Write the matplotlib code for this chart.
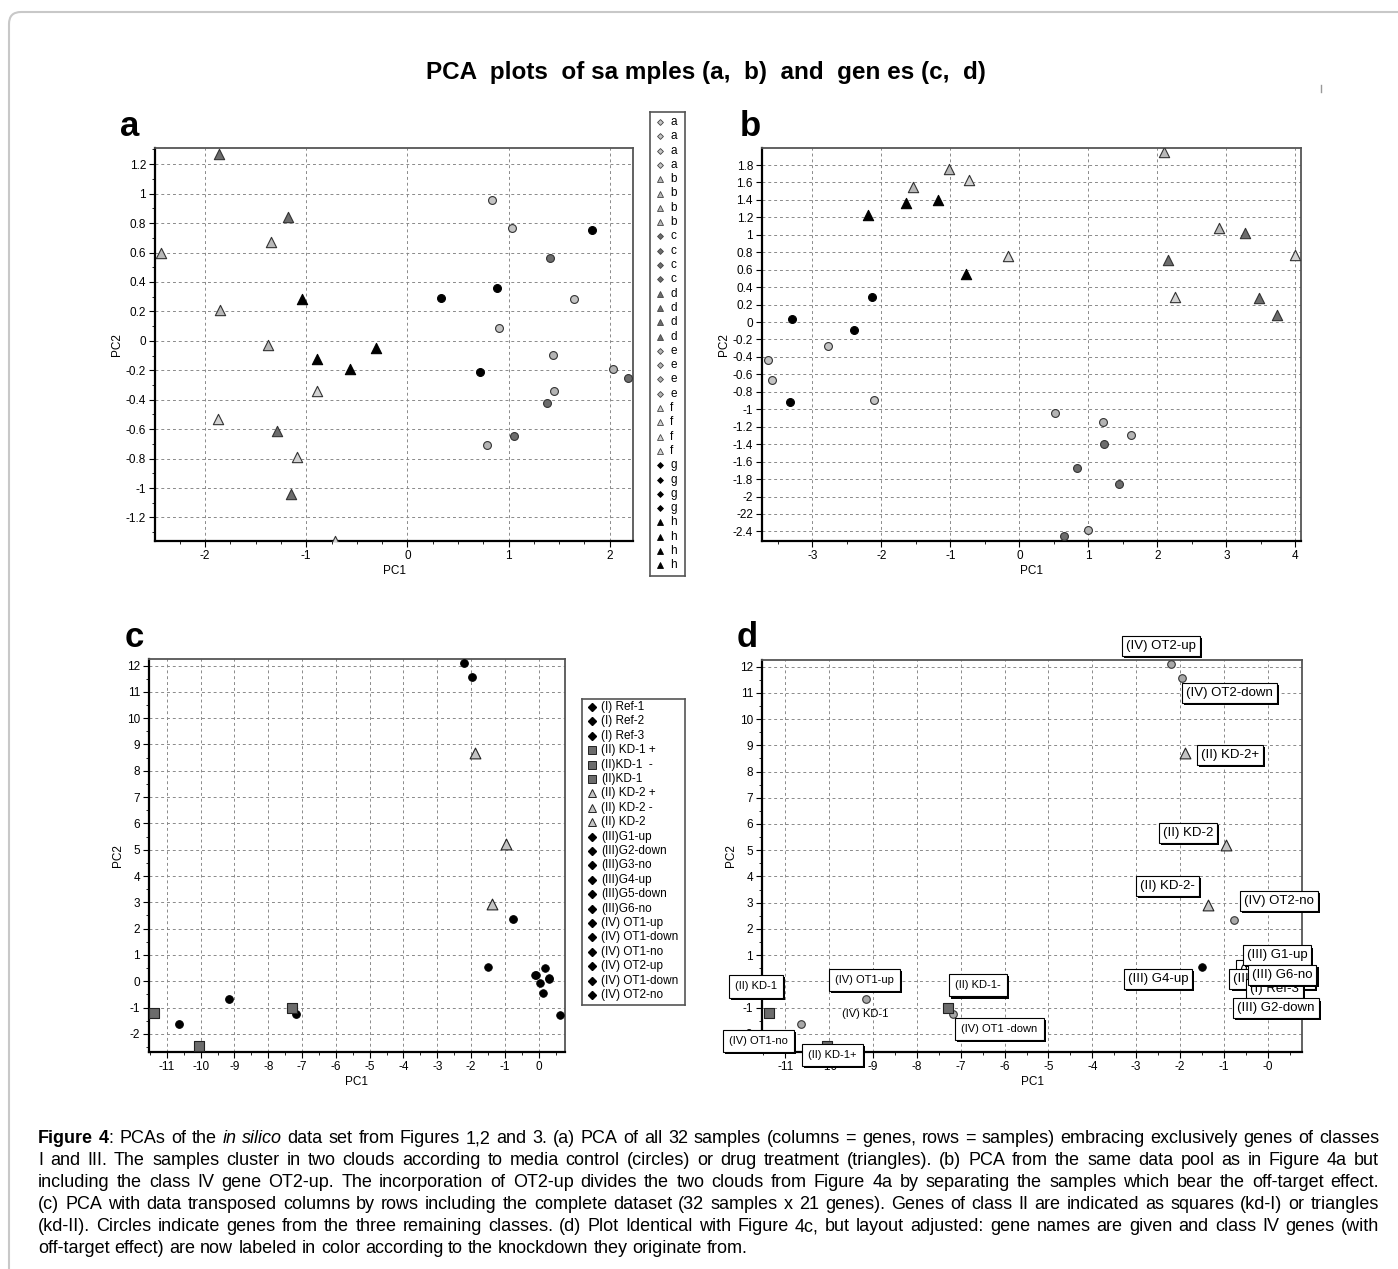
import numpy as np
import matplotlib.pyplot as plt
import matplotlib.patheffects as pe
from matplotlib.patches import FancyBboxPatch
from matplotlib.lines import Line2D
from matplotlib.ticker import MultipleLocator, FixedLocator

plt.rcParams['font.family'] = ['Liberation Sans', 'DejaVu Sans']

# ---------------- data ----------------
# panels a / b : 32 samples, 8 groups of 4
sample_group = ['a', 'a', 'a', 'a', 'b', 'b', 'b', 'b', 'c', 'c', 'c', 'c', 'd', 'd', 'd', 'd',
                'e', 'e', 'e', 'e', 'f', 'f', 'f', 'f', 'g', 'g', 'g', 'g', 'h', 'h', 'h', 'h']
a_pc1 = [0.84, 1.03, 1.65, 0.91, -2.44, -1.35, -1.85, -1.38, 1.41, 2.18, 1.38, 1.05, -1.86, -1.18, -1.29, -1.15,
         1.44, 2.03, 1.45, 0.79, -0.89, -1.87, -1.09, -0.72, 0.335, 0.89, 1.82, 0.72, -1.04, -0.89, -0.57, -0.31]
a_pc2 = [0.96, 0.765, 0.285, 0.084, 0.60, 0.67, 0.21, -0.03, 0.564, -0.25, -0.42, -0.65, 1.27, 0.84, -0.61, -1.04,
         -0.097, -0.19, -0.34, -0.71, -0.34, -0.53, -0.79, -1.36, 0.294, 0.362, 0.75, -0.21, 0.285, -0.125, -0.19, -0.05]
b_pc1 = [-2.77, -3.65, -3.58, -2.10, -1.54, -1.02, 2.89, 2.09, 1.23, 0.84, 1.44, 0.65, 3.27, 2.15, 3.47, 3.73,
         0.51, 1.21, 1.61, 0.99, -0.73, -0.16, 2.26, 4.0, -3.30, -2.13, -2.39, -3.32, -2.19, -1.65, -1.18, -0.78]
b_pc2 = [-0.27, -0.43, -0.67, -0.89, 1.55, 1.75, 1.08, 1.945, -1.40, -1.67, -1.86, -2.45, 1.02, 0.71, 0.27, 0.077,
         -1.04, -1.15, -1.29, -2.38, 1.63, 0.76, 0.29, 0.77, 0.03, 0.29, -0.09, -0.92, 1.23, 1.36, 1.40, 0.55]

# panels c / d : 21 genes
gene_names = ["(I) Ref-1", "(I) Ref-2", "(I) Ref-3", "(II) KD-1 +", "(II)KD-1  -", "(II)KD-1",
              "(II) KD-2 +", "(II) KD-2 -", "(II) KD-2", "(III)G1-up", "(III)G2-down", "(III)G3-no",
              "(III)G4-up", "(III)G5-down", "(III)G6-no", "(IV) OT1-up", "(IV) OT1-down", "(IV) OT1-no",
              "(IV) OT2-up", "(IV) OT1-down", "(IV) OT2-no"]
gene_class = ['I', 'I', 'I', 'II-1', 'II-1', 'II-1', 'II-2', 'II-2', 'II-2', 'III', 'III', 'III',
              'III', 'III', 'III', 'IV', 'IV', 'IV', 'IV', 'IV', 'IV']
gene_pc1 = [-0.10, 0.05, 0.14, -10.05, -7.29, -11.37, -1.89, -1.37, -0.96, 0.20, 0.62, 0.32,
            -1.51, 0.31, -0.09, -9.15, -7.17, -10.65, -2.21, -1.96, -0.77]
gene_pc2 = [0.23, -0.06, -0.44, -2.48, -1.03, -1.21, 8.69, 2.93, 5.21, 0.51, -1.27, 0.10,
            0.56, 0.12, 0.22, -0.68, -1.23, -1.61, 12.08, 11.57, 2.35]

# ---------------- figure ----------------
W, H = 1398, 1269
fig = plt.figure(figsize=(W / 100, H / 100), dpi=100)


def fx(x):
    return x / W


def fy(y):
    return 1 - y / H


# outer frame (only top/left visible in original)
frame = FancyBboxPatch((0.09, -1.0), 15.0, 12.69 - 0.12 + 1.0,
                       boxstyle='round,pad=0,rounding_size=0.12',
                       transform=fig.dpi_scale_trans, fc='none', ec='#c8c8c8', lw=1.5)
fig.add_artist(frame)
fig.add_artist(Line2D([fx(1321), fx(1321)], [fy(85), fy(92)], color='#999999', lw=1))

fig.text(fx(706), fy(72), "PCA  plots  of sa mples (a,  b)  and  gen es (c,  d)",
         ha='center', va='center', fontsize=17.5, fontweight='bold')

for letter, x, y in [('a', 120, 136), ('b', 740, 136), ('c', 125, 647), ('d', 737, 647)]:
    fig.text(fx(x), fy(y), letter, fontsize=25, fontweight='bold', va='baseline', ha='left')

grp_style = {'a': ('o', '#c4c4c4'), 'b': ('^', '#b8b8b8'), 'c': ('o', '#6c6c6c'), 'd': ('^', '#6c6c6c'),
             'e': ('o', '#b4b4b4'), 'f': ('^', '#d2d2d2'), 'g': ('o', 'black'), 'h': ('^', 'black')}


def style_axes(ax):
    for s in ['left', 'bottom']:
        ax.spines[s].set_color('black')
        ax.spines[s].set_linewidth(1.6)
    for s in ['top', 'right']:
        ax.spines[s].set_color('#555555')
        ax.spines[s].set_linewidth(1.3)
    ax.grid(True, which='major', ls=(0, (3, 3)), color='#8a8a8a', lw=0.7)
    ax.set_axisbelow(True)
    ax.tick_params(which='major', direction='out', length=4, width=0.8, labelsize=8.5, pad=2.5)
    ax.tick_params(which='minor', direction='out', length=2.5, width=0.6)
    ax.set_xlabel('PC1', fontsize=8.5, labelpad=2)
    ax.set_ylabel('PC2', fontsize=8.5, labelpad=2)


def fmt(v):
    return f"{round(v, 2) + 0.0:g}"


def draw_samples(ax, pc1, pc2):
    pc1 = np.array(pc1)
    pc2 = np.array(pc2)
    grp = np.array(sample_group)
    for g in ['a', 'b', 'c', 'd', 'e', 'f', 'g', 'h']:
        m, col = grp_style[g]
        sel = grp == g
        ec = 'black' if col == 'black' else '#333333'
        ax.scatter(pc1[sel], pc2[sel], marker=m, s=55 if m == '^' else 32, c=col,
                   edgecolors=ec, linewidths=0.8, zorder=3)


# ---- panel a
ax_a = fig.add_axes([fx(155), fy(541), (633 - 155) / W, (541 - 148) / H])
draw_samples(ax_a, a_pc1, a_pc2)
ax_a.set_xlim(-2.495, 2.23)
ax_a.set_ylim(-1.36, 1.31)
ax_a.xaxis.set_major_locator(FixedLocator([-2, -1, 0, 1, 2]))
ax_a.xaxis.set_minor_locator(MultipleLocator(0.25))
yt = np.round(np.arange(-1.2, 1.21, 0.2), 2)
ax_a.set_yticks(yt)
ax_a.set_yticklabels([fmt(v) for v in yt])
ax_a.yaxis.set_minor_locator(MultipleLocator(0.1))
ax_a.set_xticklabels(['-2', '-1', '0', '1', '2'])
style_axes(ax_a)

# legend a
leg_a = fig.add_axes([fx(650), fy(576), 35 / W, (576 - 112) / H])
leg_a.set_xlim(650, 685)
leg_a.set_ylim(576, 112)
leg_a.set_xticks([])
leg_a.set_yticks([])
for s in leg_a.spines.values():
    s.set_color('#555555')
    s.set_linewidth(1.2)
for i, g in enumerate(sample_group):
    m, col = grp_style[g]
    yy = 122 + i * 14.3
    leg_a.plot(660, yy, marker='D' if m == 'o' else '^', ms=3.0 if m == 'o' else 4.3, color=col,
               mec='black' if col == 'black' else '#444444', mew=0.6)
    leg_a.text(670, yy, g, fontsize=8.5, va='center', ha='left')

# ---- panel b
ax_b = fig.add_axes([fx(762), fy(541), (1301 - 762) / W, (541 - 148) / H])
draw_samples(ax_b, b_pc1, b_pc2)
ax_b.set_xlim(-3.73, 4.08)
ax_b.set_ylim(-2.51, 1.995)
ax_b.set_xticks([-3, -2, -1, 0, 1, 2, 3, 4])
ax_b.set_xticklabels(['-3', '-2', '-1', '0', '1', '2', '3', '4'])
ax_b.xaxis.set_minor_locator(MultipleLocator(0.5))
yt = np.round(np.arange(-2.4, 1.81, 0.2), 2)
ax_b.set_yticks(yt)
ax_b.set_yticklabels(['-22' if abs(v + 2.2) < 1e-6 else fmt(v) for v in yt])
style_axes(ax_b)

# ---- panels c / d
cls = np.array(gene_class)
g1 = np.array(gene_pc1)
g2 = np.array(gene_pc2)


def draw_genes(ax, ot_col):
    sel = (cls == 'I') | (cls == 'III')
    ax.scatter(g1[sel], g2[sel], marker='o', s=30, c='black', edgecolors='black', linewidths=0.6, zorder=3)
    sel = cls == 'IV'
    ax.scatter(g1[sel], g2[sel], marker='o', s=30, c=ot_col,
               edgecolors='black' if ot_col == 'black' else '#333333', linewidths=0.8, zorder=3)
    sel = cls == 'II-1'
    ax.scatter(g1[sel], g2[sel], marker='s', s=60, c='#6c6c6c', edgecolors='#222222', linewidths=0.8, zorder=3)
    sel = cls == 'II-2'
    ax.scatter(g1[sel], g2[sel], marker='^', s=60, c='#c4c4c4', edgecolors='#222222', linewidths=0.8, zorder=3)


def gene_axes(ax, xlabels):
    ax.set_xlim(-11.53, 0.78)
    ax.set_ylim(-2.69, 12.25)
    ax.set_xticks(np.arange(-11, 1))
    ax.set_xticklabels(xlabels)
    ax.xaxis.set_minor_locator(MultipleLocator(0.5))
    ax.set_yticks(np.arange(-2, 13))
    ax.set_yticklabels([str(v) for v in range(-2, 13)])
    ax.yaxis.set_minor_locator(MultipleLocator(0.5))
    style_axes(ax)


ax_c = fig.add_axes([fx(149), fy(1052), (565 - 149) / W, (1052 - 659) / H])
draw_genes(ax_c, 'black')
gene_axes(ax_c, [str(v) for v in range(-11, 1)])

# legend c
leg_c = fig.add_axes([fx(582), fy(1005), 103 / W, (1005 - 699) / H])
leg_c.set_xlim(582, 685)
leg_c.set_ylim(1005, 699)
leg_c.set_xticks([])
leg_c.set_yticks([])
for s in leg_c.spines.values():
    s.set_color('#555555')
    s.set_linewidth(1.2)
for i, (name, c) in enumerate(zip(gene_names, gene_class)):
    yy = 707 + i * 14.4
    if c == 'II-1':
        leg_c.plot(592, yy, marker='s', ms=5.5, color='#6c6c6c', mec='#222222', mew=0.7)
    elif c == 'II-2':
        leg_c.plot(592, yy, marker='^', ms=5.5, color='#c4c4c4', mec='#222222', mew=0.7)
    else:
        leg_c.plot(592, yy, marker='D', ms=4, color='black')
    leg_c.text(601, yy, name, fontsize=8.5, va='center', ha='left')

ax_d = fig.add_axes([fx(762), fy(1052), (1302 - 762) / W, (1052 - 660) / H])
draw_genes(ax_d, '#a8a8a8')
gene_axes(ax_d, [str(v) for v in range(-11, 0)] + ['-0'])

# gene name boxes in panel d (text, x, y, size, zorder)
d_labels = [
    ("(IV) OT2-up", -2.44, 12.80, 9.5, 6),
    ("(IV) OT2-down", -0.87, 10.98, 9.5, 6),
    ("(II) KD-2+", -0.86, 8.63, 9.5, 6),
    ("(II) KD-2", -1.82, 5.66, 9.5, 6),
    ("(II) KD-2-", -2.29, 3.65, 9.5, 6),
    ("(IV) OT2-no", 0.25, 3.08, 9.5, 6),
    ("(III) G4-up", -2.50, 0.08, 9.5, 6),
    ("(III) G3-no", 0.05, 0.45, 9.5, 5),
    ("(III) G5-down", 0.10, 0.10, 9.5, 5),
    ("(I) Ref-3", 0.15, -0.27, 9.5, 5),
    ("(III) G1-up", 0.21, 0.99, 9.5, 6),
    ("(III) G6-no", 0.33, 0.25, 9.5, 7),
    ("(III) G2-down", 0.19, -1.03, 9.5, 6),
    ("(II) KD-1", -11.67, -0.19, 8, 6),
    ("(IV) OT1-up", -9.19, 0.06, 8, 6),
    ("(II) KD-1-", -6.61, -0.15, 8, 6),
    ("(IV) OT1 -down", -6.12, -1.80, 8, 6),
    ("(IV) OT1-no", -11.62, -2.26, 8, 6),
    ("(II) KD-1+", -9.92, -2.79, 8, 6),
]
for txt, x, y, fs, z in d_labels:
    pad = 0.3 if fs > 9 else 0.55
    t = ax_d.text(x, y, txt, fontsize=fs, ha='center', va='center', clip_on=False, zorder=z,
                  bbox=dict(boxstyle=f'square,pad={pad}', fc='white', ec='black', lw=0.8))
    t.get_bbox_patch().set_path_effects([
        pe.SimplePatchShadow(offset=(1.5, -1.5), shadow_rgbFace='black', alpha=1.0), pe.Normal()])
ax_d.text(-9.18, -1.25, "(IV) KD-1", fontsize=8, ha='center', va='center', zorder=6)

# ---------------- caption (justified) ----------------
cap_lines = [
    [("Figure 4", 'bold'), (": PCAs of the ", ''), ("in silico", 'italic'),
     (" data set from Figures 1,2 and 3. (a) PCA of all 32 samples (columns = genes, rows = samples) "
      "embracing exclusively genes of classes", '')],
    [("I and III. The samples cluster in two clouds according to media control (circles) or drug treatment "
      "(triangles). (b) PCA from the same data pool as in Figure 4a but", '')],
    [("including the class IV gene OT2-up. The incorporation of OT2-up divides the two clouds from Figure 4a "
      "by separating the samples which bear the off-target effect.", '')],
    [("(c) PCA with data transposed columns by rows including the complete dataset (32 samples x 21 genes). "
      "Genes of class II are indicated as squares (kd-I) or triangles", '')],
    [("(kd-II). Circles indicate genes from the three remaining classes. (d) Plot Identical with Figure 4c, "
      "but layout adjusted: gene names are given and class IV genes (with", '')],
    [("off-target effect) are now labeled in color according to the knockdown they originate from.", '')],
]

renderer = fig.canvas.get_renderer()


def kw_for(st):
    if st == 'bold':
        return {'fontweight': 'bold'}
    if st == 'italic':
        return {'fontstyle': 'italic'}
    return {}


def raw_w(s, st, fs):
    t = fig.text(0, 0, s, fontsize=fs, **kw_for(st))
    w = t.get_window_extent(renderer).width
    t.remove()
    return w


def text_w(s, st, fs):
    # advance width without the outer bearings of a single string
    return raw_w('|' + s + '|', st, fs) - raw_w('||', st, fs)


def split_words(segs):
    words = [[]]
    for txt, st in segs:
        parts = txt.split(' ')
        for k, p in enumerate(parts):
            if k > 0:
                words.append([])
            if p:
                words[-1].append((p, st))
    return [w for w in words if w]


x_left, x_right = 38, 1379
# size from the last (unjustified) line, limited so justified lines still fit
last_plain = ''.join(t for t, _ in cap_lines[-1])
fs_last = 10 * 730 / text_w(last_plain, '', 10)
fs_fit = min(10 * (x_right - x_left) * 0.985 / text_w(''.join(t for t, _ in segs), '', 10)
             for segs in cap_lines[:-1])
cap_fs = min(fs_last, fs_fit)

space_w = text_w(' ', '', cap_fs)
for li, segs in enumerate(cap_lines):
    ws = split_words(segs)
    widths = [[text_w(p, st, cap_fs) for p, st in w] for w in ws]
    total = sum(sum(w) for w in widths)
    if li < len(cap_lines) - 1:
        gap = (x_right - x_left - total) / (len(ws) - 1)
    else:
        gap = space_w
    x = x_left
    yb = 1143 + li * 22
    for w, wl in zip(ws, widths):
        for (p, st), pw in zip(w, wl):
            fig.text(fx(x), fy(yb), p, fontsize=cap_fs, va='baseline', ha='left', **kw_for(st))
            x += pw
        x += gap

fig.savefig('out.png', dpi=100)
